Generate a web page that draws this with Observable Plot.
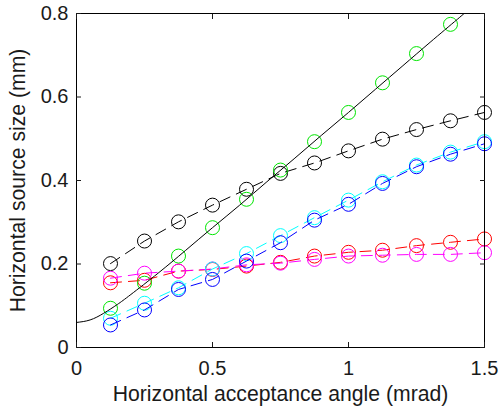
<!DOCTYPE html>
<html>
<head>
<meta charset="utf-8">
<script src="https://cdn.jsdelivr.net/npm/d3@7"></script>
<script src="https://cdn.jsdelivr.net/npm/@observablehq/plot@0.6"></script>
<style>
  html, body { margin: 0; padding: 0; background: #fff; }
  #chart svg { display: block; }
  #chart svg [aria-label="x-axis label"] text,
  #chart svg [aria-label="y-axis label"] text { font-size: 21.2px; }
</style>
</head>
<body>
<div id="chart"></div>
<script>
// Acceptance angle (mrad) at which each source size was evaluated
const angles = [0.125, 0.25, 0.375, 0.5, 0.625, 0.75, 0.875, 1.0, 1.125, 1.25, 1.375, 1.5];

// Horizontal source size (mm) for each series
const blackSize   = [0.201, 0.255, 0.301, 0.341, 0.379, 0.417, 0.442, 0.471, 0.499, 0.522, 0.543, 0.563];
const greenSize   = [0.094, 0.154, 0.219, 0.287, 0.355, 0.425, 0.493, 0.563, 0.634, 0.704, 0.774, null];
const cyanSize    = [0.070, 0.106, 0.143, 0.188, 0.225, 0.268, 0.311, 0.353, 0.397, 0.437, 0.468, 0.493];
const blueSize    = [0.054, 0.090, 0.139, 0.163, 0.207, 0.251, 0.305, 0.343, 0.393, 0.433, 0.463, 0.488];
const redSize     = [0.155, 0.161, 0.183, 0.187, 0.195, 0.204, 0.219, 0.228, 0.233, 0.244, 0.252, 0.260];
const magentaSize = [0.166, 0.178, 0.183, 0.188, 0.198, 0.202, 0.211, 0.219, 0.221, 0.223, 0.223, 0.227];

// Smooth reference curve (solid black)
const curveAngle = [0, 0.05, 0.1, 0.15, 0.2, 0.3, 0.4, 0.5, 0.6, 0.7, 0.8, 0.9, 1.0, 1.1, 1.2, 1.3, 1.4, 1.45];
const curveSize  = [0.060, 0.066, 0.082, 0.103, 0.127, 0.178, 0.232, 0.287, 0.341, 0.397, 0.452, 0.508, 0.563, 0.619, 0.675, 0.731, 0.786, 0.814];

// Axis ticks
const xTicks = [0, 0.5, 1, 1.5];
const yTicks = [0, 0.2, 0.4, 0.6, 0.8];

const series = [
  {name: "black",   color: "#000000", values: blackSize,   dashed: true},
  {name: "red",     color: "#ff0000", values: redSize,     dashed: true},
  {name: "magenta", color: "#ff00ff", values: magentaSize, dashed: true},
  {name: "cyan",    color: "#00ffff", values: cyanSize,    dashed: true},
  {name: "blue",    color: "#0000ff", values: blueSize,    dashed: true},
  {name: "green",   color: "#00e600", values: greenSize,   dashed: false}
];

const rows = s => angles.map((a, i) => ({x: a, y: s.values[i]})).filter(d => d.y != null);
const curve = curveAngle.map((a, i) => ({x: a, y: curveSize[i]}));

const marks = [];
for (const s of series) {
  const data = rows(s);
  if (s.dashed) {
    marks.push(Plot.line(data, {x: "x", y: "y", stroke: s.color, strokeWidth: 1, strokeDasharray: "11,7"}));
  }
  marks.push(Plot.dot(data, {x: "x", y: "y", r: 7, stroke: s.color, strokeWidth: 1, fill: "none"}));
}
marks.push(Plot.line(curve, {x: "x", y: "y", stroke: "#000", strokeWidth: 1, curve: "natural", clip: true}));

const fmt = d => String(d);

const chart = Plot.plot({
  width: 501,
  height: 409,
  marginLeft: 76,
  marginRight: 17,
  marginTop: 13,
  marginBottom: 62,
  style: {fontFamily: "'Liberation Sans', Arial, Helvetica, sans-serif", fontSize: "20px", color: "#1a1a1a", background: "#fff"},
  x: {domain: [0, 1.5]},
  y: {domain: [0, 0.8]},
  marks: [
    ...marks,
    Plot.frame({stroke: "#000", strokeWidth: 1}),
    Plot.axisX({anchor: "bottom", ticks: xTicks, tickSize: -5, tickPadding: 18, tickFormat: fmt, fontSize: 20,
      label: "Horizontal acceptance angle (mrad)", labelAnchor: "center", labelOffset: 53, labelArrow: "none"}),
    Plot.axisX({anchor: "top", ticks: xTicks, tickSize: -5, tickFormat: () => "", label: null}),
    Plot.axisY({anchor: "left", ticks: yTicks, tickSize: -5, tickPadding: 13, tickFormat: fmt, fontSize: 20,
      label: "Horizontal source size (mm)", labelAnchor: "center", labelOffset: 67, labelArrow: "none"}),
    Plot.axisY({anchor: "right", ticks: yTicks, tickSize: -5, tickFormat: () => "", label: null})
  ]
});

document.getElementById("chart").append(chart);
</script>
</body>
</html>
